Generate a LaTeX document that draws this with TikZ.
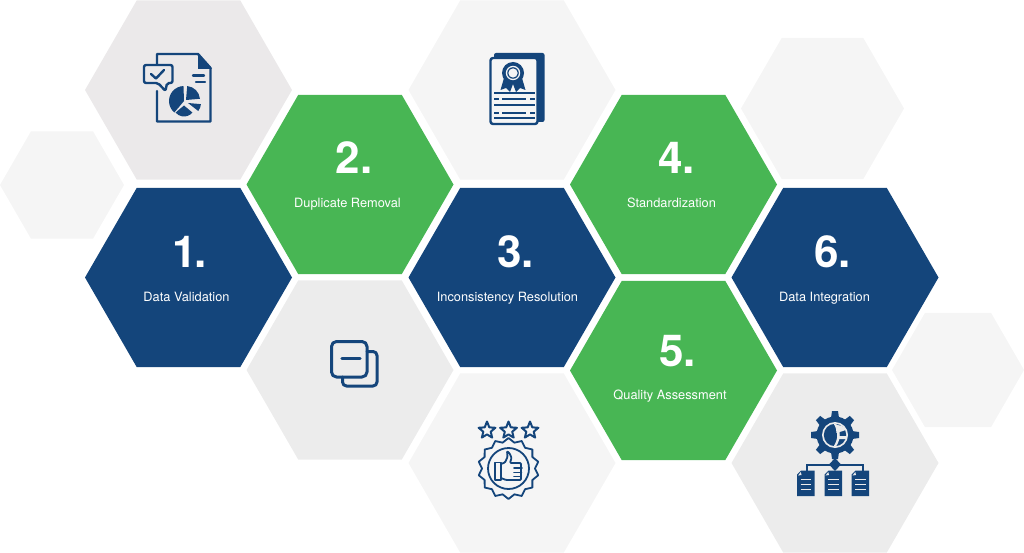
\documentclass[tikz,border=0pt]{standalone}
\usepackage{fontspec}
\setmainfont{TeX Gyre Heros}
\usetikzlibrary{shapes.geometric}
\definecolor{hblue}{HTML}{14457B}
\definecolor{hgreen}{HTML}{48B654}
\definecolor{greyA}{HTML}{EBE9EA}
\definecolor{greyB}{HTML}{F5F5F5}
\definecolor{greyC}{HTML}{ECECEC}
\tikzset{
  hexa/.style={regular polygon,regular polygon sides=6,inner sep=0pt,outer sep=0pt,minimum size=#1},
  num/.style={text=white,font=\fontsize{44}{44}\selectfont\bfseries,inner sep=0pt,anchor=center},
  lab/.style={text=white,font=\fontsize{12.8}{14}\selectfont,inner sep=0pt,anchor=base},
  ic/.style={draw=hblue,line width=2.4pt,line join=round,line cap=round},
  ict/.style={draw=hblue,line width=1.8pt,line join=round,line cap=round},
}
\begin{document}
\begin{tikzpicture}[x=1pt,y=-1pt]
\useasboundingbox (0,0) rectangle (1024,553);
\clip (0,0) rectangle (1024,553);
% background hexagons
\node[hexa=207pt,fill=greyA] (g1) at (188.5,90) {};
\node[hexa=124pt,fill=greyB] (g2) at (62,185) {};
\node[hexa=207pt,fill=greyB] (g3) at (512,90) {};
\node[hexa=163pt,fill=greyB] (g4) at (822.5,108.5) {};
\node[hexa=207pt,fill=greyC] (g5) at (350,370) {};
\node[hexa=207pt,fill=greyB] (g6) at (512,463) {};
\node[hexa=207pt,fill=greyC] (g7) at (835,463) {};
\node[hexa=132pt,fill=greyB] (g8) at (958,370) {};
% coloured hexagons
\node[hexa=207pt,fill=hblue] (h1) at (188.5,277.5) {};
\node[hexa=207pt,fill=hgreen] (h2) at (350,184.5) {};
\node[hexa=207pt,fill=hblue] (h3) at (512,277.5) {};
\node[hexa=207pt,fill=hgreen] (h4) at (673.5,184.5) {};
\node[hexa=207pt,fill=hgreen] (h5) at (673.5,370.5) {};
\node[hexa=207pt,fill=hblue] (h6) at (835,277.5) {};
% labels
\node[num] (n1) at (189.5,251.5) {1\kern-3pt.};
\node[lab] (l1) at (186.5,301) {Data Validation};
\node[num] (n2) at (354,157.5) {2.};
\node[lab] (l2) at (347.5,207.5) {Duplicate Removal};
\node[num] (n3) at (515.5,251.5) {3.};
\node[lab] (l3) at (507.5,301) {Inconsistency Resolution};
\node[num] (n4) at (676.5,157.5) {4.};
\node[lab] (l4) at (671.5,207.5) {Standardization};
\node[num] (n5) at (677.5,351) {5.};
\node[lab] (l5) at (670,399.5) {Quality Assessment};
\node[num] (n6) at (832.5,251.5) {6.};
\node[lab] (l6) at (824.5,301) {Data Integration};
% icon 1: report with pie and speech bubble
\draw[ic] (157,64) -- (157,54) -- (198,54) -- (210.5,68) -- (210.5,121.5) -- (157,121.5) -- (157,91);
\fill[hblue] (198,53) -- (212,69) -- (198,69) -- cycle;
\draw[ic,rounded corners=2pt] (144,65) -- (172.5,65) -- (172.5,83) -- (167,83) -- (165.5,91) -- (158,83) -- (144,83) -- cycle;
\draw[ic] (151,74) -- (156,78.5) -- (164,70);
\draw[ic] (193,75.5) -- (204,75.5);
\draw[ic] (196,82) -- (205,82);
\fill[hblue] (184,101) -- ++(130:15) arc[start angle=130,end angle=268,radius=15] -- cycle;
\fill[hblue] (186,100) -- ++(-85:14) arc[start angle=-85,end angle=-5,radius=14] -- cycle;
\fill[hblue] (188,103) -- ++(5:13) arc[start angle=5,end angle=38,radius=13] -- cycle;
\fill[hblue] (184,105.5) -- ++(40:11) arc[start angle=40,end angle=140,radius=11] -- cycle;
% icon 2: certificate
\fill[hblue,rounded corners=2pt] (494,53) rectangle (544.5,122);
\fill[greyB] (490,60) rectangle (538,124.5);
\draw[ic,rounded corners=2.5pt,fill=greyB] (490.5,58) rectangle (537.5,124);
\fill[hblue] (504,78) -- (500.5,90) -- (506,88) -- (510,92) -- (513,84) -- (516,92) -- (520,88) -- (525.5,90) -- (522,78) -- cycle;
\fill[hblue] (513,73) circle (11);
\fill[greyB] (513,73) circle (7.2);
\fill[hblue] (513,73) circle (5.8);
\fill[greyB] (513,73) circle (4.6);
\foreach \yy in {93.5,105,118}{\draw[hblue,line width=2pt] (494,\yy) -- (535,\yy);}
\foreach \yy in {99.5,113}{
  \draw[hblue,line width=2pt] (494,\yy) -- (499,\yy);
  \draw[hblue,line width=2pt] (502,\yy) -- (526,\yy);
  \draw[hblue,line width=2pt] (530,\yy) -- (535,\yy);}
% icon 3: duplicate with minus
\draw[ic,line width=3pt,rounded corners=4pt] (367,351.5) -- (377,351.5) -- (377,386) -- (342.5,386) -- (342.5,377);
\draw[ic,line width=3pt,rounded corners=5pt] (331.5,341.5) rectangle (367,377);
\draw[ic,line width=3.4pt] (342,358.5) -- (360,358.5);
% icon 4: stars, badge and thumb
\foreach \xx in {487,508.5,530}{
  \draw[ict,line width=2pt] (\xx,421.5)
    \foreach \k in {1,...,9}{ -- ({\xx+(mod(\k,2)==1?3.9:8.8)*sin(36*\k)},{430.5-(mod(\k,2)==1?3.9:8.8)*cos(36*\k)}) } -- cycle;
}
\draw[ict] (508.5,438)
  \foreach \k in {1,...,27}{ -- ({508.5+(mod(\k,2)==1?26.5:30.5)*sin(360/28*\k)},{468.5-(mod(\k,2)==1?26.5:30.5)*cos(360/28*\k)}) } -- cycle;
\draw[ict] (508.5,468.5) circle (20.5);
\draw[ict] (495,462.5) rectangle (501,480);
\draw[ict,rounded corners=1pt] (501,464) -- (505,462.5) -- (507.5,457) -- (507,451) -- (510,454) -- (511.5,458) -- (510,463) -- (521,463) -- (521,480) -- (506,480) -- (501,478);
\draw[ict] (514,468) -- (522,468);
\draw[ict] (514,472.5) -- (521.5,472.5);
\draw[ict] (514,476.5) -- (521,476.5);
% icon 5: gear, tree, files
\fill[hblue] (835,435) circle (18.5);
\foreach \a in {0,45,...,315}{
  \fill[hblue,rotate around={\a:(835,435)}] (831,418) -- (832,411) -- (838,411) -- (839,418) -- cycle;
}
\fill[greyC] (835,435) circle (13);
\fill[hblue] (835,435) circle (11.2);
\fill[greyC] (836.5,433) -- (846,430) arc[start angle=-27,end angle=-70,radius=9] -- (835.5,424.8) -- cycle;
\fill[greyC] (838.5,436) -- (846.5,436) -- (846,439) -- (838,439) -- cycle;
\fill[greyC] (836,423.5) .. controls (841,431) and (841,439) .. (836,446.5) -- (833.5,446.5) .. controls (838.5,439) and (838.5,431) .. (833.5,423.5) -- cycle;
\draw[hblue,line width=2pt] (835,456) -- (835,470);
\draw[hblue,line width=2pt] (807,471) -- (807,464.5) -- (863,464.5) -- (863,471);
\fill[hblue] (835,458) -- (841,464.5) -- (835,471) -- (829,464.5) -- cycle;
\foreach \xx in {797,824.5,851.5}{
  \fill[hblue] (\xx+4,470.5) -- (\xx+17.5,470.5) -- (\xx+17.5,496) -- (\xx,496) -- (\xx,474.5) -- cycle;
  \fill[greyC] (\xx+3.8,472) -- (\xx+4.5,475) -- (\xx+1,475.5) -- cycle;
  \foreach \yy in {479.5,484.5,489.5}{\draw[greyC,line width=1.8pt] (\xx+3.5,\yy) -- (\xx+14,\yy);}
}
\end{tikzpicture}
\end{document}
